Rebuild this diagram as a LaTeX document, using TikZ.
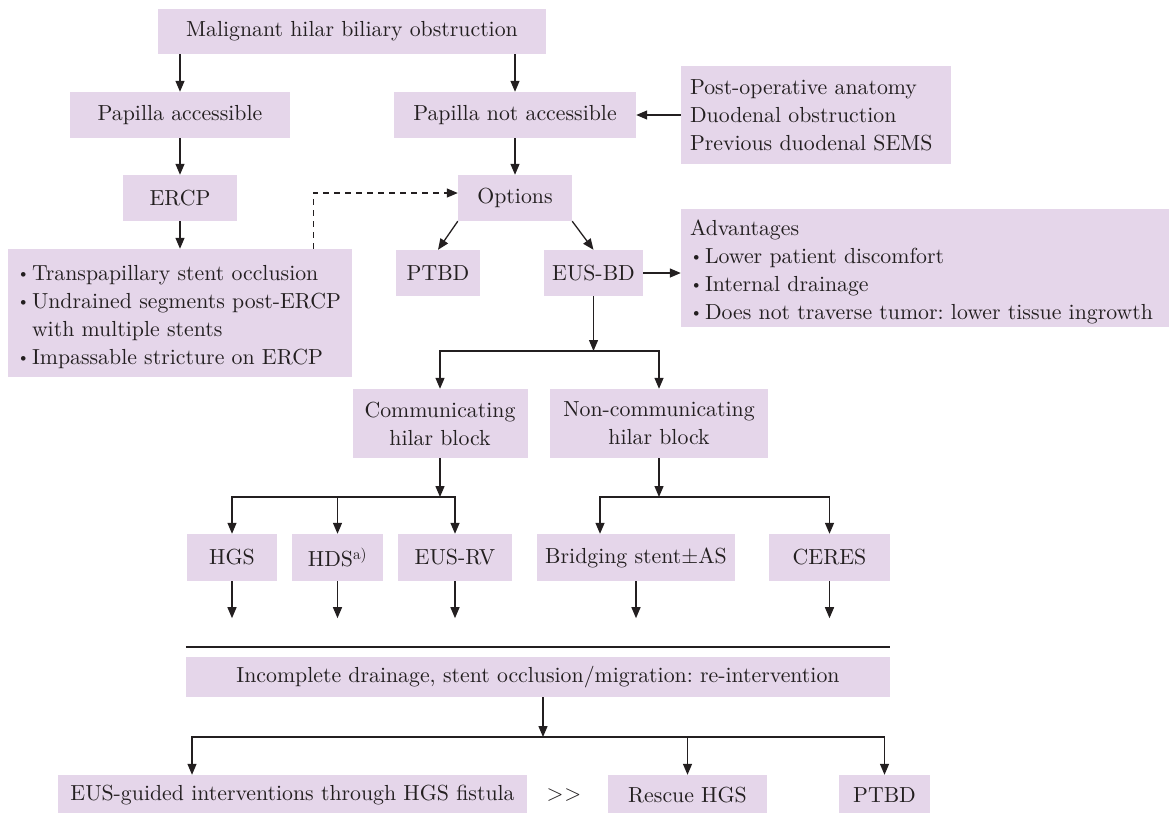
\documentclass[tikz,border=0pt]{standalone}
\usepackage{fontspec}
\setmainfont{lmroman10-regular.otf}
\usepackage{tikz}
\usetikzlibrary{arrows.meta}
\definecolor{boxfill}{RGB}{229,214,234}
\definecolor{ink}{RGB}{35,31,32}
\frenchspacing
\tikzset{
  box/.style={fill=boxfill, text=ink, inner sep=0pt, minimum height=46pt, align=center, font=\fontsize{21.8}{28}\selectfont},
  listbox/.style={box, align=left, inner xsep=9pt},
  arr/.style={draw=ink, line width=1.3pt, -{Triangle[length=11pt,width=9pt]}},
}
\newcommand{\lift}{\rule{0pt}{24pt}}
\newcommand{\itm}[1]{\mbox{\makebox[15pt][l]{\raisebox{2.6pt}{\fontsize{16}{16}\selectfont\textbullet}}#1}}

\begin{document}
\begin{tikzpicture}[x=1pt,y=-1pt]
	\useasboundingbox (0,0) rectangle (1169,812);
	% upper part
	\node (obstr) at (352,31.5) [box,minimum width=388pt,minimum height=45pt] {Malignant hilar biliary obstruction};
	\node (papacc) at (180,115) [box,minimum width=220pt] {Papilla accessible};
	\node (papnot) at (515,115) [box,minimum width=242pt] {Papilla not accessible};
	\node (postop) at (816,115) [listbox,text width=252pt,minimum height=98pt] {Post-operative anatomy\\ Duodenal obstruction\\ Previous duodenal SEMS};
	\node (ercp) at (180,198) [box,minimum width=114pt] {ERCP};
	\node (fail) at (180,313) [listbox,text width=326pt,minimum height=128pt] {\lift\itm{Transpapillary stent occlusion}\\ \itm{Undrained segments post-ERCP}\\ \mbox{\hspace{15pt}with multiple stents}\\ \itm{Impassable stricture on ERCP}};
	\node (options) at (515,198) [box,minimum width=114pt] {Options};
	\node (ptbd) at (438,273) [box,minimum width=84pt] {PTBD};
	\node (eusbd) at (593.5,273) [box,minimum width=99pt] {EUS-BD};
	\node (adv) at (925,268) [listbox,text width=470pt,minimum height=118pt] {\lift Advantages\\ \itm{Lower patient discomfort}\\ \itm{Internal drainage}\\ \itm{Does not traverse tumor: lower tissue ingrowth}};

	\draw[arr] (obstr.south -| papacc) -- (papacc);
	\draw[arr] (obstr.south -| papnot) -- (papnot);
	\draw[arr] (postop) -- (papnot);
	\draw[arr] (papacc) -- (ercp);
	\draw[arr] (ercp) -- (fail);
	\draw[arr] (papnot) -- (options);
	\draw[arr,dash pattern=on 6pt off 5pt] ([xshift=-39pt]fail.north east) |- ([yshift=5pt]options.west);
	\draw[arr] (options.south west) -- (ptbd.north);
	\draw[arr] (options.south east) -- (eusbd.north);
	\draw[arr] (eusbd) -- (eusbd -| adv.west);

	% hilar block
	\node (comm) at (440,423.5) [box,minimum width=175pt,minimum height=69pt] {Communicating\\ hilar block};
	\node (noncomm) at (659,423.5) [box,minimum width=218pt,minimum height=69pt] {Non-communicating\\ hilar block};
	\coordinate (split1) at (593.5,351);
	\draw[arr] (eusbd) -- (split1);
	\draw[arr] (split1) -| (comm);
	\draw[arr] (split1) -| (noncomm);

	\node (hgs) at (232,557.5) [box,minimum width=90pt,minimum height=47pt] {HGS};
	\node (hds) at (337.5,557.5) [box,minimum width=91pt,minimum height=47pt] {HDS\textsuperscript{a)}};
	\node (eusrv) at (455,557.5) [box,minimum width=114pt,minimum height=47pt] {EUS-RV};
	\node (bridge) at (636,557.5) [box,minimum width=198pt,minimum height=47pt] {Bridging stent±AS};
	\node (ceres) at (829.5,557.5) [box,minimum width=121pt,minimum height=47pt] {CERES};
	\coordinate (split2) at (440,497);
	\draw[arr] (comm) -- (split2);
	\foreach \n in {hgs,hds,eusrv}
		\draw[arr] (split2) -| (\n);
	\coordinate (split3) at (659,497);
	\draw[arr] (noncomm) -- (split3);
	\draw[arr] (split3) -| ([xshift=-36pt]bridge.north);
	\draw[arr] (split3) -| (ceres);
	\foreach \n in {hgs,hds,eusrv,bridge,ceres}
		\draw[arr] (\n.south) -- ++(0,37);

	% re-intervention
	\node (incompl) at (538,677) [box,minimum width=704pt,minimum height=40pt] {Incomplete drainage, stent occlusion/migration: re-intervention};
	\draw[draw=ink,line width=2.6pt] ([yshift=10pt]incompl.north west) -- ([yshift=10pt]incompl.north east);
	\node (eusg) at (292.5,795) [box,minimum width=469pt,minimum height=40pt] {EUS-guided interventions through HGS fistula};
	\node (gg) at (564,795) [text=ink,font=\fontsize{21.8}{28}\selectfont] {>\kern1pt>};
	\node (rescue) at (687.5,795) [box,minimum width=159pt,minimum height=40pt] {Rescue HGS};
	\node (ptbdb) at (884.5,795) [box,minimum width=91pt,minimum height=40pt] {PTBD};
	\coordinate (split4) at (543,737);
	\draw[arr] (incompl.south -| split4) -- (split4);
	\draw[arr] (split4) -| ([xshift=-100.5pt]eusg.north);
	\draw[arr] (split4) -| (rescue);
	\draw[arr] (split4) -| (ptbdb);
\end{tikzpicture}
\end{document}
